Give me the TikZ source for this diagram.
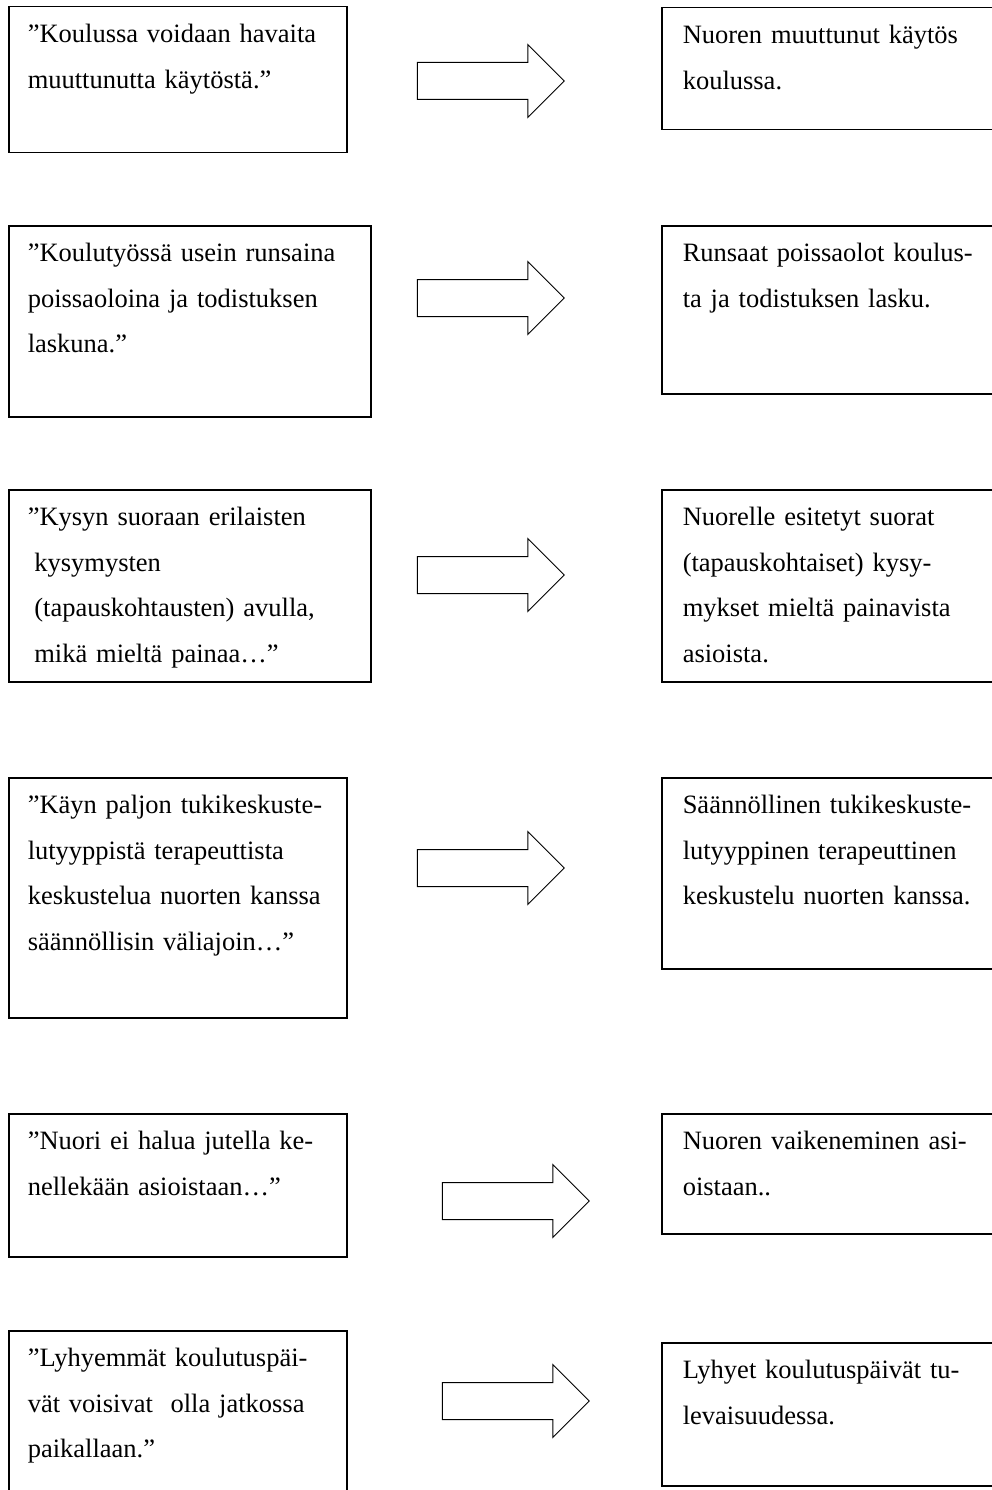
\documentclass[tikz,border=0pt]{standalone}
\usepackage{fontspec}
\setmainfont{Liberation Serif}
\usetikzlibrary{shapes.arrows}

\tikzset{
  quotebox/.style 2 args={draw=black, line width=1.5pt, anchor=north west, inner xsep=19pt, inner ysep=0pt,
    align=left, text width=#1, text height=36pt, text depth=#2, font=\fontsize{26.5}{45.5}\selectfont},
  answerbox/.style={quotebox={298pt}{#1}, inner xsep=21pt},
  fatarrow/.style={single arrow, draw=black, line width=1pt, fill=white, inner xsep=0pt, inner ysep=18pt,
    minimum height=147pt, single arrow head extend=18pt, single arrow head indent=0pt}
}

\begin{document}
\begin{tikzpicture}[x=1pt, y=-1pt]
  \clip (0,0) rectangle (992,1490);
  \fill[white] (0,0) rectangle (992,1490);

  % Quotes
  \node[quotebox={300pt}{110pt}] (q1) at (8,6) {”Koulussa voidaan havaita\\muuttunutta käytöstä.”};
  \node[quotebox={324pt}{155pt}] (q2) at (8,225) {”Koulutyössä usein runsaina\\poissaoloina ja todistuksen\\laskuna.”};
  \node[quotebox={324pt}{156pt}] (q3) at (8,489) {”Kysyn suoraan erilaisten\\\hspace*{.25em}kysymysten\\\hspace*{.25em}(tapauskohtausten) avulla,\\\hspace*{.25em}mikä mieltä painaa…”};
  \node[quotebox={300pt}{204pt}] (q4) at (8,777) {”Käyn paljon tukikeskuste-\\lutyyppistä terapeuttista\\keskustelua nuorten kanssa\\säännöllisin väliajoin…”};
  \node[quotebox={300pt}{107pt}] (q5) at (8,1113) {”Nuori ei halua jutella ke-\\nellekään asioistaan…”};
  \node[quotebox={300pt}{170pt}] (q6) at (8,1330) {”Lyhyemmät koulutuspäi-\\vät voisivat\ \ olla jatkossa\\paikallaan.”};

  % Meanings
  \node[answerbox={86pt}] (m1) at (661,7) {Nuoren muuttunut käytös\\koulussa.};
  \node[answerbox={132pt}] (m2) at (661,225) {Runsaat poissaolot koulus-\\ta ja todistuksen lasku.};
  \node[answerbox={156pt}] (m3) at (661,489) {Nuorelle esitetyt suorat\\(tapauskohtaiset) kysy-\\mykset mieltä painavista\\asioista.};
  \node[answerbox={155pt}] (m4) at (661,777) {Säännöllinen tukikeskuste-\\lutyyppinen terapeuttinen\\keskustelu nuorten kanssa.};
  \node[answerbox={84pt}] (m5) at (661,1113) {Nuoren vaikeneminen asi-\\oistaan..};
  \node[answerbox={107pt}] (m6) at (661,1342) {Lyhyet koulutuspäivät tu-\\levaisuudessa.};

  % Arrows
  \node[fatarrow] (a1) at (481.5,81) {};
  \node[fatarrow] (a2) at (481.5,298) {};
  \node[fatarrow] (a3) at (481.5,575) {};
  \node[fatarrow] (a4) at (481.5,868) {};
  \node[fatarrow] (a5) at (506.5,1201) {};
  \node[fatarrow] (a6) at (506.5,1401) {};
\end{tikzpicture}
\end{document}
